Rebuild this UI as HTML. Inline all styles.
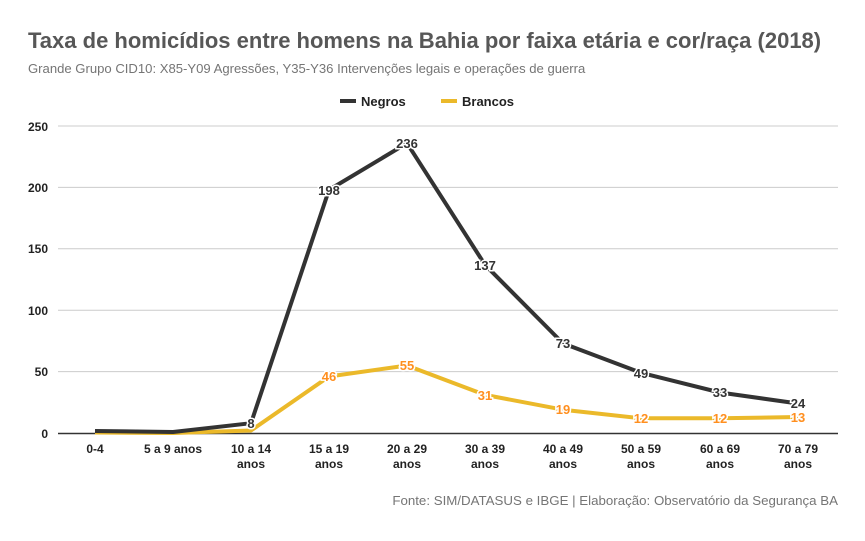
<!DOCTYPE html>
<html><head><meta charset="utf-8"><style>
body{margin:0;background:#fff;}
svg text{font-family:"Liberation Sans",Arial,sans-serif;}
</style></head><body>
<svg width="865" height="536" viewBox="0 0 865 536" xmlns="http://www.w3.org/2000/svg">
<rect width="865" height="536" fill="#fff"/>
<text x="28" y="48" font-size="22" font-weight="bold" fill="#575757">Taxa de homicídios entre homens na Bahia por faixa etária e cor/raça (2018)</text>
<text x="28" y="73" font-size="13.1" fill="#757575">Grande Grupo CID10: X85-Y09 Agressões, Y35-Y36 Intervenções legais e operações de guerra</text>
<line x1="340" y1="101" x2="356" y2="101" stroke="#333" stroke-width="4"/>
<text x="361" y="106" font-size="13" font-weight="bold" fill="#222">Negros</text>
<line x1="441" y1="101" x2="457" y2="101" stroke="#ebb92a" stroke-width="4"/>
<text x="462" y="106" font-size="13" font-weight="bold" fill="#222">Brancos</text>
<g stroke="#ccc" stroke-width="1">
<line x1="58" y1="126" x2="838" y2="126"/>
<line x1="58" y1="187.4" x2="838" y2="187.4"/>
<line x1="58" y1="248.8" x2="838" y2="248.8"/>
<line x1="58" y1="310.2" x2="838" y2="310.2"/>
<line x1="58" y1="371.6" x2="838" y2="371.6"/>
</g>
<line x1="58" y1="433.5" x2="838" y2="433.5" stroke="#333" stroke-width="1.5"/>
<g font-size="12" font-weight="bold" fill="#222" text-anchor="end">
<text x="48" y="131">250</text><text x="48" y="192">200</text><text x="48" y="253">150</text>
<text x="48" y="315">100</text><text x="48" y="376">50</text><text x="48" y="438">0</text>
</g>
<g font-size="12" font-weight="bold" fill="#222" text-anchor="middle">
<text x="95" y="453">0-4</text><text x="173" y="453">5 a 9 anos</text>
<text x="251" y="453">10 a 14</text><text x="251" y="468">anos</text>
<text x="329" y="453">15 a 19</text><text x="329" y="468">anos</text>
<text x="407" y="453">20 a 29</text><text x="407" y="468">anos</text>
<text x="485" y="453">30 a 39</text><text x="485" y="468">anos</text>
<text x="563" y="453">40 a 49</text><text x="563" y="468">anos</text>
<text x="641" y="453">50 a 59</text><text x="641" y="468">anos</text>
<text x="720" y="453">60 a 69</text><text x="720" y="468">anos</text>
<text x="798" y="453">70 a 79</text><text x="798" y="468">anos</text>
</g>
<polyline fill="none" stroke="#ebb92a" stroke-width="4" stroke-linejoin="round" points="95,432.5 173,433 251,430.5 329,376.5 407,365.5 485,394.9 563,409.7 641,418.3 720,418.3 798,417"/>
<polyline fill="none" stroke="#333" stroke-width="4" stroke-linejoin="round" points="95,431 173,432 251,423.2 329,189.9 407,143.2 485,264.8 563,343.4 641,372.8 720,392.5 798,403.5"/>
<g font-size="13" font-weight="bold" text-anchor="middle" stroke="#fff" stroke-width="3" paint-order="stroke" fill="#ff8f1f">
<text x="329" y="381">46</text><text x="407" y="370">55</text><text x="485" y="400">31</text>
<text x="563" y="414">19</text><text x="641" y="423">12</text><text x="720" y="423">12</text><text x="798" y="422">13</text>
</g>
<g font-size="13" font-weight="bold" text-anchor="middle" stroke="#fff" stroke-width="3" paint-order="stroke" fill="#333">
<text x="251" y="428">8</text><text x="329" y="195">198</text><text x="407" y="148">236</text>
<text x="485" y="270">137</text><text x="563" y="348">73</text><text x="641" y="378">49</text>
<text x="720" y="397">33</text><text x="798" y="408">24</text>
</g>
<text x="838" y="505" font-size="13.3" fill="#757575" text-anchor="end">Fonte: SIM/DATASUS e IBGE | Elaboração: Observatório da Segurança BA</text>
</svg>
</body></html>
